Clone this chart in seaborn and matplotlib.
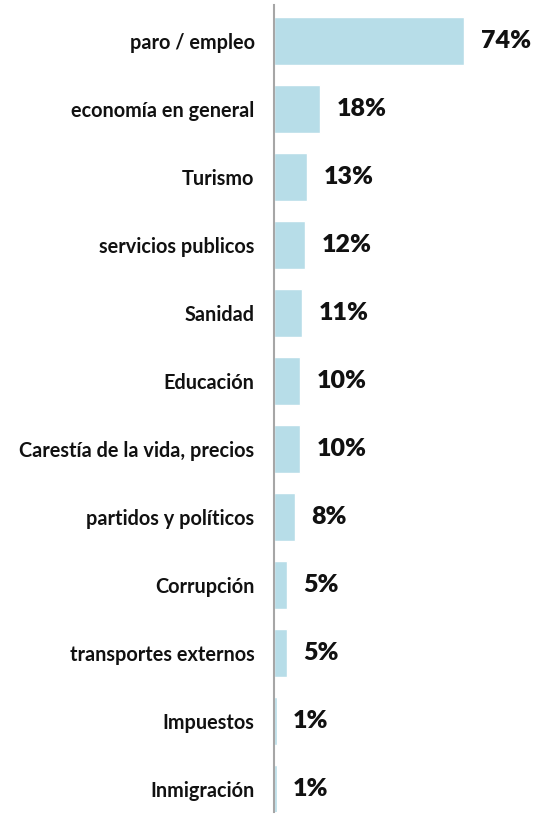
import pandas as pd
import seaborn as sns
import matplotlib.pyplot as plt

categories = ['paro / empleo', 'economía en general', 'Turismo', 'servicios publicos',
              'Sanidad', 'Educación', 'Carestía de la vida, precios', 'partidos y políticos',
              'Corrupción', 'transportes externos', 'Impuestos', 'Inmigración']
values = [74, 18, 13, 12, 11, 10, 10, 8, 5, 5, 1, 1]

df = pd.DataFrame({'tema': categories, 'pct': values})

sns.set_style('white')
plt.rcParams['font.family'] = ['Lato', 'DejaVu Sans']

fig = plt.figure(figsize=(5.36, 8.14), dpi=100)
ax = fig.add_axes([274 / 536, 2 / 814, 257 / 536, 807 / 814])

sns.barplot(data=df, y='tema', x='pct', orient='h', color='#b7dde8',
            width=0.7, saturation=1, ax=ax)

ax.set_xlim(0, 100)
ax.set_ylim(11.34, -0.53)
ax.set_xlabel('')
ax.set_ylabel('')
ax.set_xticks([])

for s in ['top', 'right', 'bottom']:
    ax.spines[s].set_visible(False)
ax.spines['left'].set_color('#a6a6a6')
ax.spines['left'].set_linewidth(1.5)

ax.tick_params(axis='y', length=0, pad=14)
for t in ax.get_yticklabels():
    t.set_fontsize(14.3)
    t.set_fontweight('bold')
    t.set_color('#111111')

ax.bar_label(ax.containers[0], labels=[f'{v}%' for v in values], padding=12,
             fontsize=18, fontweight='heavy', color='#111111')

fig.savefig('out.png', dpi=100)
